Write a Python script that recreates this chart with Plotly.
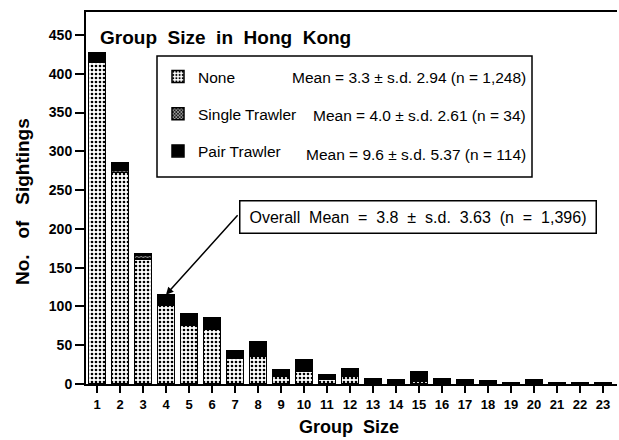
import plotly.graph_objects as go

# Sightings per group size, split by trawler activity
group_size = list(range(1, 24))
none_counts = [415, 273, 161, 102, 76, 70, 33, 36, 10, 17, 6, 10, 1, 1, 4, 0, 0, 0, 0, 0, 0, 0, 0]
single_counts = [3, 2, 5, 1, 0, 0, 0, 0, 1, 0, 0, 0, 0, 0, 0, 0, 0, 0, 0, 0, 0, 0, 0]
pair_counts = [9, 10, 2, 12, 14, 15, 10, 18, 8, 14, 6, 10, 6, 5, 12, 7, 5, 4, 2, 6, 1, 1, 1]

series_names = ["None", "Single Trawler", "Pair Trawler"]
series_stats = [
    "Mean = 3.3 ± s.d. 2.94 (n = 1,248)",
    "Mean = 4.0 ± s.d. 2.61 (n = 34)",
    "Mean = 9.6 ± s.d. 5.37 (n = 114)",
]
overall_text = "Overall  Mean  =  3.8  ±  s.d.  3.63  (n  =  1,396)"
y_ticks = list(range(0, 451, 50))

W, H = 619, 440
L, R, T, B = 86, 617, 12, 384


def px(xp):
    return (xp - L) / (R - L)


def py(yp):
    return (B - yp) / (B - T)


FONT = "Liberation Sans, Arial, Helvetica, sans-serif"


def nz(vals):
    return [v if v else None for v in vals]


patterns = [
    dict(shape=".", size=4, solidity=0.35, fgcolor="black", bgcolor="white", fillmode="replace"),
    dict(shape="x", size=3, solidity=0.5, fgcolor="black", bgcolor="#9a9a9a", fillmode="replace"),
    None,
]
colors = ["white", "#9a9a9a", "black"]

fig = go.Figure()
for name, vals, pat, col in zip(series_names, [none_counts, single_counts, pair_counts], patterns, colors):
    marker = dict(color=col, line=dict(color="black", width=1.5))
    if pat:
        marker["pattern"] = pat
    fig.add_trace(go.Bar(
        x=group_size, y=nz(vals), name=name, legendgroup=name,
        marker=marker, width=0.74,
    ))

annotations = []
# Chart title
annotations.append(dict(
    text="<b>Group  Size  in  Hong  Kong</b>", x=px(98), y=py(37), xref="paper", yref="paper",
    xanchor="left", yanchor="middle", showarrow=False,
    font=dict(family=FONT, size=19, color="black"),
))
# Legend statistics
for i, s in enumerate(series_stats):
    annotations.append(dict(
        text=s, x=px(528), y=py([78, 116, 154][i]), xref="paper", yref="paper",
        xanchor="right", yanchor="middle", showarrow=False,
        font=dict(family=FONT, size=15.5, color="black"),
    ))
# Overall mean box
annotations.append(dict(
    text=overall_text, x=px(418), y=py(216.5), xref="paper", yref="paper",
    xanchor="center", yanchor="middle", showarrow=False,
    width=353, height=29, borderpad=1, borderwidth=1.5, bordercolor="black",
    bgcolor="white", font=dict(family=FONT, size=16, color="black"),
))
# Arrow pointing at group size 4
annotations.append(dict(
    text="", x=4, y=115, xref="x", yref="y", ax=73, ay=-81,
    showarrow=True, arrowhead=2, arrowsize=1, arrowwidth=1.5, arrowcolor="black",
))
# Axis titles
annotations.append(dict(
    text="<b>No.   of   Sightings</b>", x=px(22), y=py(202), xref="paper", yref="paper",
    textangle=-90, showarrow=False, xanchor="center", yanchor="middle",
    font=dict(family=FONT, size=19, color="black"),
))
annotations.append(dict(
    text="<b>Group  Size</b>", x=px(349), y=py(427), xref="paper", yref="paper",
    showarrow=False, xanchor="center", yanchor="middle",
    font=dict(family=FONT, size=18, color="black"),
))

fig.update_layout(
    width=W, height=H,
    margin=dict(l=L, r=W - R, t=T, b=H - B, pad=0),
    paper_bgcolor="white", plot_bgcolor="white",
    barmode="stack", bargap=0.26,
    font=dict(family=FONT, size=12, color="black"),
    showlegend=True,
    legend=dict(
        x=px(158), y=py(60), xanchor="left", yanchor="top",
        traceorder="grouped", tracegroupgap=14,
        bgcolor="rgba(0,0,0,0)", borderwidth=0,
        font=dict(family=FONT, size=15.5, color="black"),
    ),
    annotations=annotations,
    shapes=[dict(
        type="rect", xref="paper", yref="paper",
        x0=px(157), x1=px(532), y0=py(177), y1=py(56),
        line=dict(color="black", width=1.5), fillcolor="rgba(0,0,0,0)", layer="above",
    )],
    xaxis=dict(
        range=[0.522, 23.61], tickmode="array", tickvals=group_size,
        ticks="outside", ticklen=7, tickwidth=1.5, tickcolor="black",
        showline=True, linecolor="black", linewidth=2, mirror=True,
        showgrid=False, zeroline=False,
        tickfont=dict(family=FONT, size=13, color="black", weight="bold"),
    ),
    yaxis=dict(
        range=[0, 479.6], tickmode="array", tickvals=y_ticks,
        ticks="outside", ticklen=9, tickwidth=1.5, tickcolor="black",
        showline=True, linecolor="black", linewidth=2,
        showgrid=False, zeroline=False,
        tickfont=dict(family=FONT, size=14, color="black", weight="bold"),
    ),
)

fig.write_html("out.html")
